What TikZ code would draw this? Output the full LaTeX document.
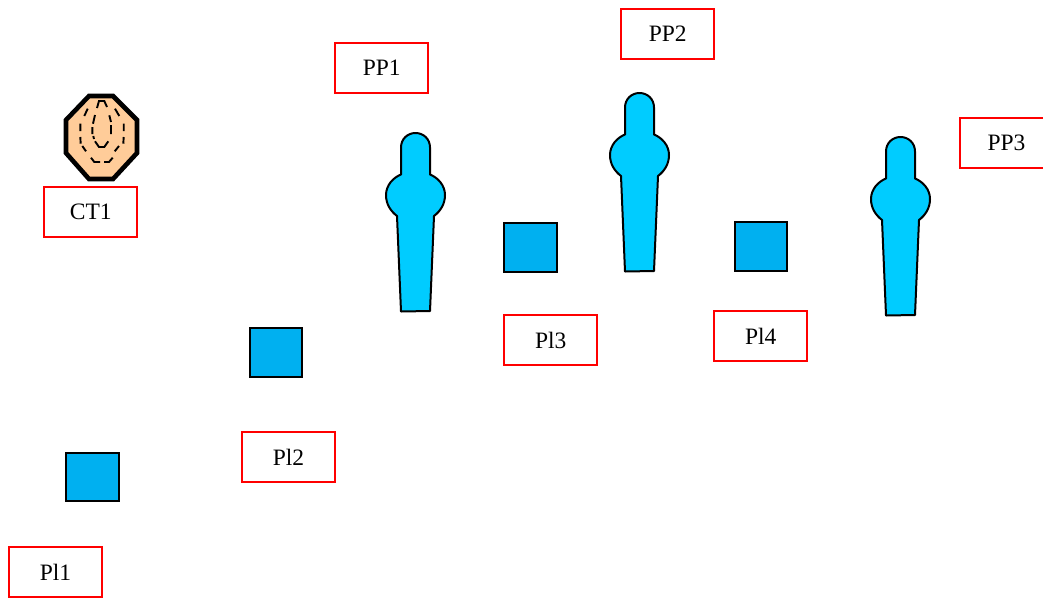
\documentclass[tikz,border=0pt]{standalone}
\usepackage{fontspec}
\setmainfont{Liberation Serif}
\tikzset{
  labelbox/.style={draw=red,line width=2pt,fill=white,minimum width=93pt,minimum height=50pt,inner sep=0pt,font=\fontsize{23.5}{27}\selectfont,text=black},
  plate/.style={draw=black,line width=2pt,fill=plateblue,minimum width=52.6pt,minimum height=48.5pt,inner sep=0pt},
  figure/.style={draw=black,line width=2pt,fill=figblue,line join=round},
  dashline/.style={draw=black,line width=1.9pt,line join=miter}
}
\definecolor{plateblue}{HTML}{00B0F0}
\definecolor{figblue}{HTML}{00CCFF}
\definecolor{skin}{HTML}{FFCC99}
\newcommand{\figureshape}[2]{%
  \draw[figure,shift={(#1,#2)}] (-14.5,41.5) -- (-14.5,14.5)
    .. controls (-14.5,6) and (-8,0) .. (0,0)
    .. controls (8,0) and (14.5,6) .. (14.5,14.5)
    -- (14.5,41.5)
    .. controls (22,44.5) and (29.5,52) .. (29.5,62)
    .. controls (29.5,71) and (25,78) .. (18.5,83)
    -- (14.5,178) -- (-14.5,178.5) -- (-18.5,83)
    .. controls (-25,78) and (-29.5,71) .. (-29.5,62)
    .. controls (-29.5,52) and (-22,44.5) .. (-14.5,41.5) -- cycle;}
\begin{document}
\begin{tikzpicture}[x=1pt,y=-1pt]
\useasboundingbox (0,0) rectangle (1043,597);
\clip (0,0) rectangle (1043,597);
% octagon
\draw[line width=4.6pt,fill=skin,line join=miter] (89,96) -- (113,96) -- (137,120) -- (137,153) -- (113,179) -- (89,179) -- (66,153) -- (66,120) -- cycle;
\draw[dashline]
  (97,108) -- (99,101) -- (104.3,101) -- (107,107)
  (87.7,108.7) -- (84.3,116)
  (80.3,123.7) -- (80.3,131)
  (80.3,137) -- (80.7,143.7)
  (82.3,146) -- (86,151.3)
  (91,157.7) -- (94.3,162) -- (100,162)
  (104,162) -- (109,162) -- (112.7,157.7)
  (119,146) -- (114.7,151.3)
  (123.7,123.7) -- (123.7,131)
  (123.7,137) -- (123.3,143.7)
  (115,108.7) -- (119.3,116)
  (95,115) -- (93,123.7)
  (92.3,127) -- (92.3,134)
  (93.3,136) -- (94,139)
  (95,141.3) -- (99,147) -- (104.3,147) -- (108.3,141.3)
  (111,125) -- (111,134)
  (109.3,115.3) -- (111,122);
% figures
\figureshape{415.5}{133}
\figureshape{639.5}{93}
\figureshape{900.5}{137}
% plates
\node[plate] (s1) at (92.3,477) {};
\node[plate] (s2) at (276,352.5) {};
\node[plate] (s3) at (530.3,247.5) {};
\node[plate] (s4) at (761,246.5) {};
% labels
\node[labelbox] (pp1) at (381.8,68) {PP1};
\node[labelbox] (pp2) at (667.8,34) {PP2};
\node[labelbox] (pp3) at (1006.5,143) {PP3};
\node[labelbox] (ct1) at (90.8,212) {CT1};
\node[labelbox] (pl1) at (55.5,572) {Pl1};
\node[labelbox] (pl2) at (288.5,457) {Pl2};
\node[labelbox] (pl3) at (550.8,340) {Pl3};
\node[labelbox] (pl4) at (760.8,336) {Pl4};
\end{tikzpicture}
\end{document}
